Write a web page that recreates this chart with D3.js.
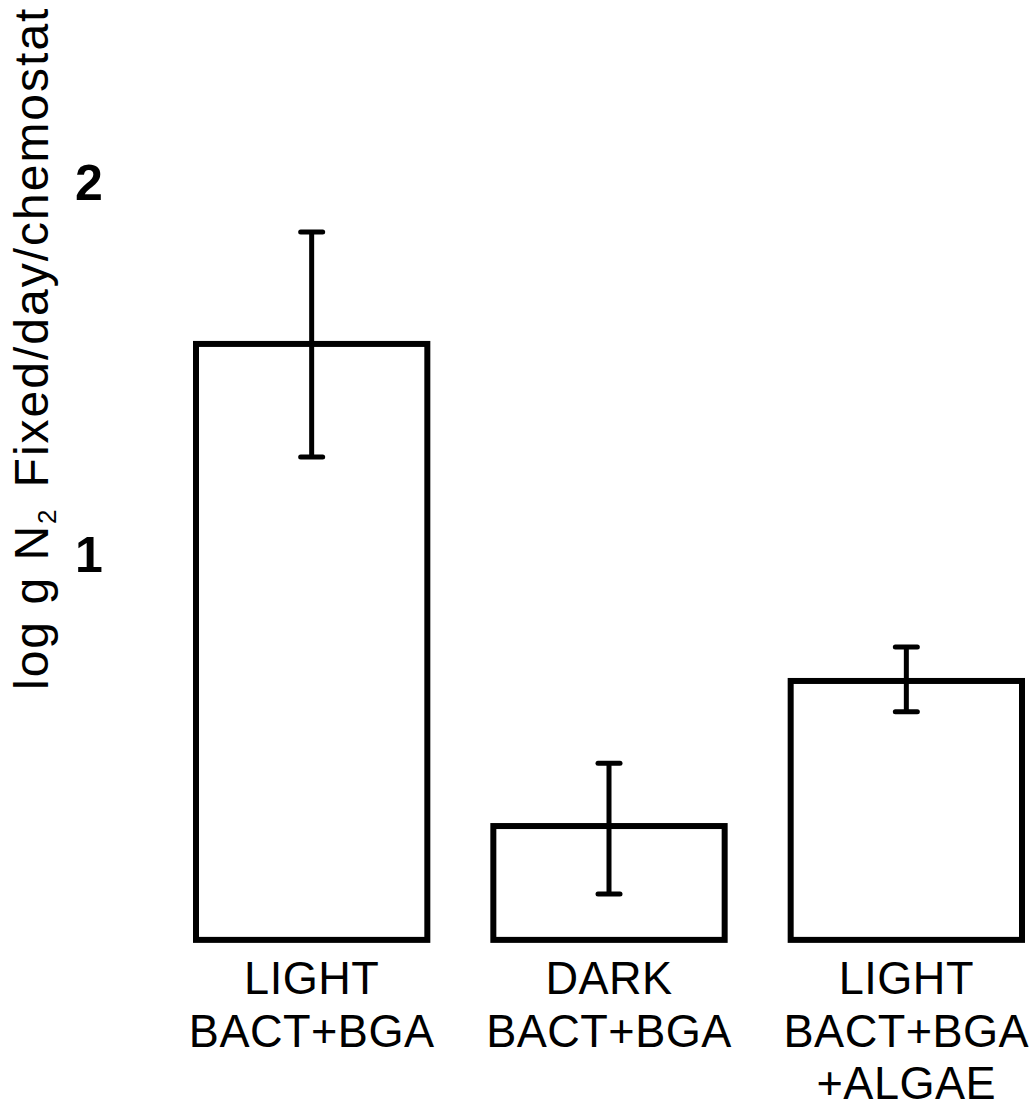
<!DOCTYPE html>
<html>
<head>
<meta charset="utf-8">
<script src="https://cdn.jsdelivr.net/npm/d3@7"></script>
<style>
  html, body { margin: 0; padding: 0; background: #fff; }
  svg { display: block; }
</style>
</head>
<body>
<svg id="chart" width="1033" height="1109"></svg>
<script>
// Treatments (each label is split into lines)
const categories = ["LIGHT|BACT+BGA", "DARK|BACT+BGA", "LIGHT|BACT+BGA|+ALGAE"];
// log g N2 fixed per day per chemostat (bar heights)
const means = [1.562, 0.266, 0.656];
// Error bar limits
const errLow  = [1.258, 0.083, 0.573];
const errHigh = [1.863, 0.435, 0.747];
// Y tick labels
const yTicks = [1, 2];
const baseValue = -0.04;

const svg = d3.select("#chart");

const x = d3.scaleBand()
  .domain(categories)
  .range([196, 1022])
  .paddingInner(0.222)
  .paddingOuter(0);

const y = d3.scaleLinear()
  .domain([0, 2])
  .range([925, 181]);

const ink = "#000";

// Bars: open rectangles
svg.append("g").selectAll("rect")
  .data(categories)
  .join("rect")
  .attr("x", d => x(d))
  .attr("width", x.bandwidth())
  .attr("y", (d, i) => y(means[i]))
  .attr("height", (d, i) => y(baseValue) - y(means[i]))
  .attr("fill", "none")
  .attr("stroke", ink)
  .attr("stroke-width", 6);

// Error bars
const eb = svg.append("g").selectAll("g")
  .data(categories)
  .join("g")
  .attr("transform", d => `translate(${x(d) + x.bandwidth() / 2},0)`);

eb.append("line")
  .attr("y1", (d, i) => y(errLow[i]))
  .attr("y2", (d, i) => y(errHigh[i]))
  .attr("stroke", ink)
  .attr("stroke-width", 5);

eb.selectAll("line.cap")
  .data((d, i) => [errLow[i], errHigh[i]])
  .join("line")
  .attr("class", "cap")
  .attr("x1", -11).attr("x2", 11)
  .attr("y1", v => y(v)).attr("y2", v => y(v))
  .attr("stroke", ink)
  .attr("stroke-width", 5)
  .attr("stroke-linecap", "round");

// Y axis: tick labels only
const yAxis = svg.append("g")
  .attr("transform", "translate(75,0)")
  .call(d3.axisLeft(y).tickValues(yTicks).tickSize(0).tickFormat(d3.format("d")));
yAxis.select(".domain").remove();
yAxis.selectAll("text")
  .attr("x", 0)
  .attr("dy", "0.36em")
  .attr("text-anchor", "start")
  .attr("fill", ink)
  .style("font-family", "'Liberation Sans', Arial, sans-serif")
  .style("font-weight", "bold")
  .style("font-size", "50px");

// Y axis title (rotated)
const title = svg.append("text")
  .attr("transform", "translate(48,690) rotate(-90)")
  .attr("fill", ink)
  .style("font-family", "'Liberation Sans', Arial, sans-serif")
  .style("font-size", "48px")
  .style("letter-spacing", "2px");
title.append("tspan").text("log g N");
title.append("tspan").text("2").style("font-size", "26px").attr("dy", 8);
title.append("tspan").text("Fixed/day/chemostat").attr("dy", -8).attr("dx", 20);

// Category labels below bars
const lineBase = [994, 1046.5, 1099];
const labels = svg.append("g").selectAll("g")
  .data(categories)
  .join("g");
labels.each(function(d) {
  const cx = x(d) + x.bandwidth() / 2;
  d3.select(this).selectAll("text")
    .data(d.split("|"))
    .join("text")
    .attr("transform", (t, j) => `translate(${cx},${lineBase[j]}) scale(0.98,1)`)
    .attr("text-anchor", "middle")
    .attr("fill", ink)
    .style("font-family", "'Liberation Sans', Arial, sans-serif")
    .style("font-size", "46px")
    .style("letter-spacing", "0.5px")
    .text(t => t);
});
</script>
</body>
</html>
